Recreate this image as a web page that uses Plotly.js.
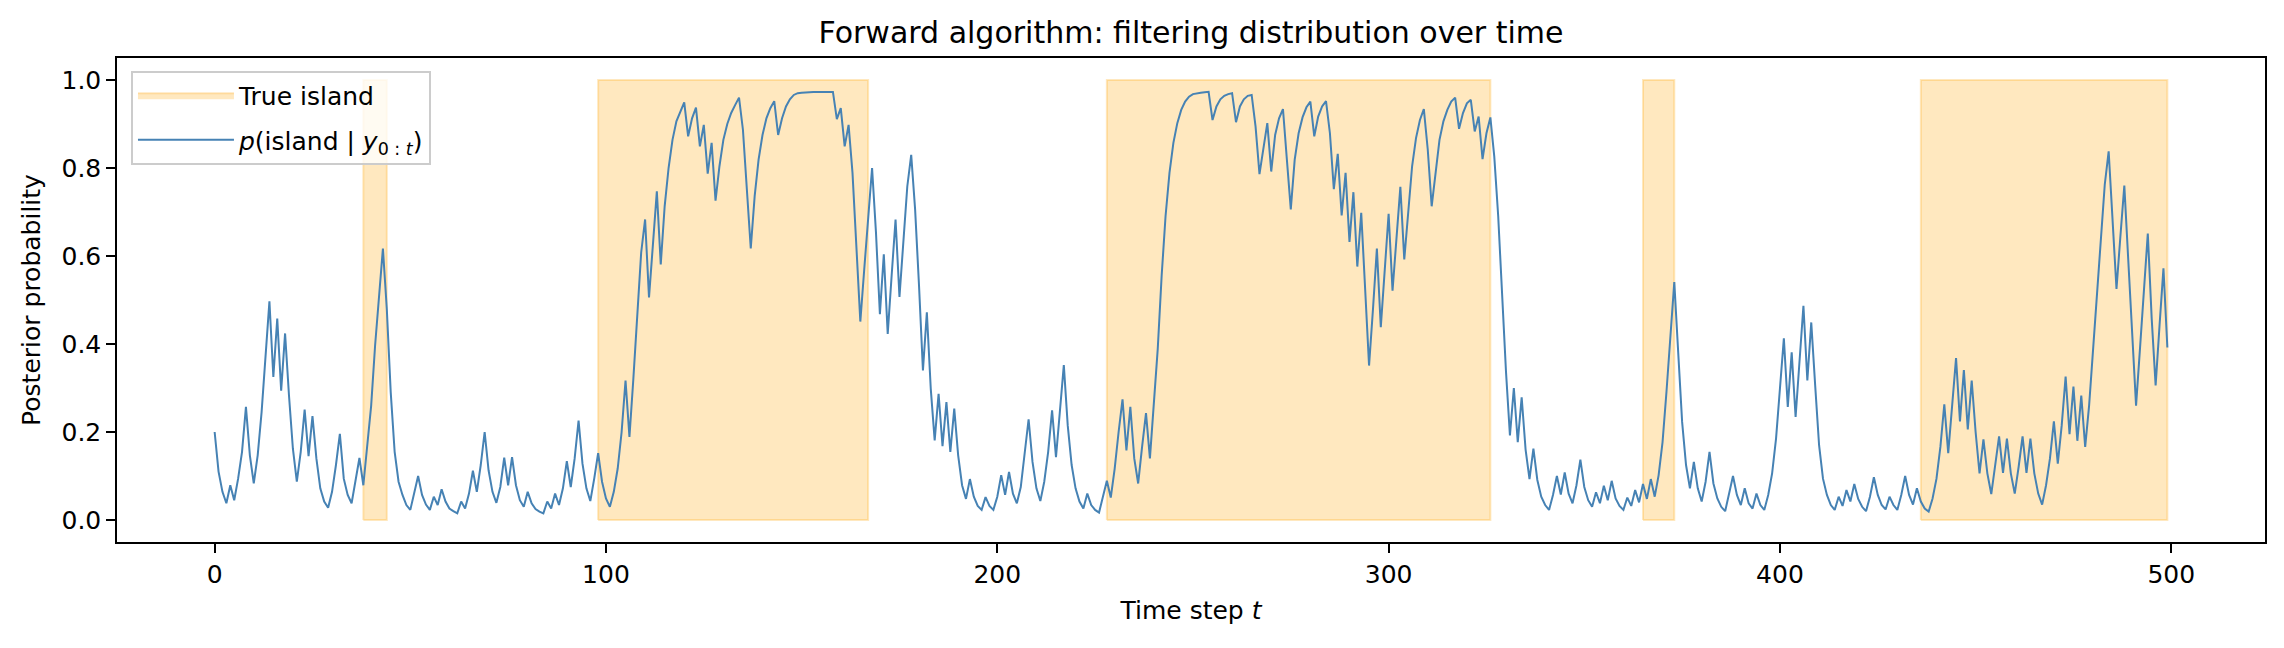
<!DOCTYPE html>
<html>
<head>
<meta charset="utf-8">
<script src="https://cdn.plot.ly/plotly-3.0.1.min.js"></script>
<style>html,body{margin:0;padding:0;background:#fff;}#chart{width:2284px;height:648px;}</style>
</head>
<body>
<div id="chart"></div>
<script>
// True island segments (start, end time steps)
const islandStart = [38, 98, 228, 365, 436];
const islandEnd   = [44, 167, 326, 373, 499];

// Filtering posterior p(island | y_{0:t}), t = 0..499
const posterior = [
  0.20, 0.11, 0.064, 0.038, 0.079, 0.045, 0.094, 0.155, 0.257, 0.147,
  0.083, 0.147, 0.245, 0.366, 0.497, 0.325, 0.458, 0.294, 0.424, 0.283,
  0.162, 0.087, 0.155, 0.251, 0.145, 0.236, 0.14, 0.072, 0.042, 0.028,
  0.064, 0.125, 0.196, 0.094, 0.057, 0.038, 0.087, 0.141, 0.079, 0.162,
  0.26, 0.396, 0.517, 0.617, 0.479, 0.29, 0.155, 0.087, 0.057, 0.034,
  0.023, 0.064, 0.10, 0.057, 0.035, 0.023, 0.053, 0.034, 0.07, 0.042,
  0.026, 0.02, 0.015, 0.042, 0.026, 0.06, 0.112, 0.064, 0.125, 0.2,
  0.113, 0.064, 0.039, 0.075, 0.142, 0.079, 0.143, 0.079, 0.045, 0.03,
  0.064, 0.038, 0.025, 0.019, 0.015, 0.042, 0.026, 0.06, 0.034, 0.072,
  0.134, 0.075, 0.14, 0.226, 0.128, 0.072, 0.043, 0.094, 0.152, 0.087,
  0.049, 0.03, 0.064, 0.117, 0.2, 0.317, 0.189, 0.321, 0.472, 0.608,
  0.683, 0.506, 0.626, 0.747, 0.581, 0.713, 0.80, 0.864, 0.906, 0.928,
  0.949, 0.872, 0.913, 0.937, 0.849, 0.898, 0.787, 0.857, 0.726, 0.804,
  0.864, 0.90, 0.925, 0.943, 0.96, 0.887, 0.743, 0.617, 0.736, 0.819,
  0.875, 0.913, 0.936, 0.952, 0.875, 0.913, 0.94, 0.956, 0.966, 0.97,
  0.971, 0.972, 0.972, 0.973, 0.973, 0.973, 0.973, 0.973, 0.973, 0.911,
  0.936, 0.849, 0.898, 0.789, 0.623, 0.451, 0.57, 0.69, 0.80, 0.653,
  0.468, 0.604, 0.423, 0.555, 0.683, 0.507, 0.645, 0.758, 0.83, 0.706,
  0.532, 0.34, 0.472, 0.298, 0.181, 0.287, 0.168, 0.268, 0.155, 0.253,
  0.147, 0.079, 0.048, 0.093, 0.053, 0.032, 0.023, 0.052, 0.032, 0.023,
  0.053, 0.102, 0.057, 0.109, 0.06, 0.038, 0.075, 0.155, 0.229, 0.132,
  0.072, 0.043, 0.087, 0.155, 0.249, 0.143, 0.253, 0.352, 0.215, 0.125,
  0.072, 0.042, 0.026, 0.06, 0.034, 0.023, 0.017, 0.053, 0.089, 0.051,
  0.117, 0.2, 0.274, 0.158, 0.257, 0.14, 0.083, 0.166, 0.243, 0.14,
  0.26, 0.389, 0.555, 0.691, 0.789, 0.857, 0.902, 0.932, 0.951, 0.962,
  0.968, 0.97, 0.971, 0.972, 0.973, 0.909, 0.94, 0.956, 0.964, 0.968,
  0.97, 0.904, 0.94, 0.956, 0.964, 0.966, 0.894, 0.786, 0.849, 0.902,
  0.792, 0.875, 0.913, 0.934, 0.819, 0.706, 0.819, 0.879, 0.915, 0.938,
  0.951, 0.872, 0.917, 0.94, 0.952, 0.879, 0.752, 0.832, 0.692, 0.789,
  0.632, 0.745, 0.576, 0.698, 0.525, 0.351, 0.479, 0.617, 0.438, 0.562,
  0.696, 0.521, 0.638, 0.757, 0.592, 0.706, 0.804, 0.868, 0.909, 0.934,
  0.842, 0.713, 0.796, 0.864, 0.906, 0.932, 0.951, 0.96, 0.889, 0.925,
  0.947, 0.955, 0.883, 0.917, 0.82, 0.879, 0.915, 0.826, 0.691, 0.502,
  0.336, 0.192, 0.30, 0.177, 0.279, 0.16, 0.093, 0.162, 0.091, 0.053,
  0.034, 0.023, 0.057, 0.10, 0.058, 0.108, 0.06, 0.038, 0.079, 0.137,
  0.075, 0.045, 0.03, 0.063, 0.038, 0.078, 0.045, 0.089, 0.049, 0.032,
  0.023, 0.051, 0.032, 0.068, 0.04, 0.082, 0.048, 0.093, 0.053, 0.102,
  0.177, 0.291, 0.419, 0.541, 0.381, 0.223, 0.125, 0.072, 0.132, 0.072,
  0.042, 0.087, 0.155, 0.083, 0.049, 0.03, 0.02, 0.057, 0.10, 0.057,
  0.034, 0.072, 0.038, 0.026, 0.06, 0.034, 0.023, 0.057, 0.106, 0.185,
  0.298, 0.413, 0.257, 0.381, 0.234, 0.351, 0.487, 0.317, 0.449, 0.306,
  0.17, 0.094, 0.057, 0.034, 0.023, 0.053, 0.032, 0.068, 0.042, 0.082,
  0.048, 0.03, 0.02, 0.053, 0.097, 0.057, 0.034, 0.024, 0.053, 0.034,
  0.023, 0.057, 0.10, 0.057, 0.035, 0.072, 0.042, 0.026, 0.019, 0.049,
  0.094, 0.166, 0.263, 0.152, 0.268, 0.368, 0.224, 0.341, 0.206, 0.317,
  0.20, 0.106, 0.183, 0.106, 0.059, 0.121, 0.19, 0.107, 0.185, 0.106,
  0.06, 0.121, 0.19, 0.107, 0.185, 0.106, 0.06, 0.035, 0.079, 0.14,
  0.224, 0.128, 0.215, 0.326, 0.195, 0.303, 0.18, 0.283, 0.166, 0.26,
  0.389, 0.525, 0.653, 0.762, 0.838, 0.691, 0.525, 0.645, 0.76, 0.592,
  0.419, 0.26, 0.389, 0.517, 0.651, 0.457, 0.306, 0.442, 0.572, 0.392
];

const xTickVals = [0, 100, 200, 300, 400, 500];
const yTickVals = [0.0, 0.2, 0.4, 0.6, 0.8, 1.0];

const timeSteps = posterior.map((_, i) => i);

const FONT = 'DejaVu Sans, Liberation Sans, sans-serif';
const FS = 25;
const bandFill = 'rgba(255,165,0,0.25)';

const traces = [];
islandStart.forEach((s, k) => {
  const e = islandEnd[k];
  traces.push({
    type: 'scatter', mode: 'lines',
    x: [s, e, e, s, s], y: [0, 0, 1, 1, 0],
    fill: 'toself', fillcolor: bandFill,
    line: {color: bandFill, width: 2},
    name: 'True island', legendgroup: 'island',
    showlegend: k === 0, hoverinfo: 'skip'
  });
});
traces.push({
  type: 'scatter', mode: 'lines',
  x: timeSteps, y: posterior,
  line: {color: '#4682b4', width: 2},
  name: '<i>p</i>(island | <i>y</i><sub>0 : <i>t</i></sub>)',
  legendgroup: 'post'
});

const axisCommon = {
  showline: true, mirror: true, linecolor: '#000', linewidth: 2,
  ticks: 'outside', ticklen: 8.75, tickwidth: 2, tickcolor: '#000',
  showgrid: false, zeroline: false,
  tickfont: {family: FONT, size: FS, color: '#000'}
};

const layout = {
  width: 2284, height: 648,
  paper_bgcolor: '#fff', plot_bgcolor: '#fff',
  margin: {l: 117, r: 19, t: 58, b: 106, pad: 0},
  font: {family: FONT, color: '#000'},
  title: {
    text: 'Forward algorithm: filtering distribution over time',
    font: {family: FONT, size: 30, color: '#000'},
    x: 0.5, xref: 'paper', y: 1 - 32/648, yref: 'container', yanchor: 'middle'
  },
  xaxis: Object.assign({}, axisCommon, {
    range: [-24.95, 523.95], tickvals: xTickVals,
    title: {text: 'Time step <i>t</i>', font: {family: FONT, size: FS, color: '#000'}, standoff: 14}
  }),
  yaxis: Object.assign({}, axisCommon, {
    range: [-0.05, 1.05], tickvals: yTickVals, tickformat: '.1f',
    title: {text: 'Posterior probability', font: {family: FONT, size: FS, color: '#000'}, standoff: 14}
  }),
  showlegend: true,
  legend: {
    x: 0.0065, y: 0.974, xanchor: 'left', yanchor: 'top',
    bgcolor: 'rgba(255,255,255,0.8)', bordercolor: '#cccccc', borderwidth: 2,
    font: {family: FONT, size: FS, color: '#000'},
    traceorder: 'grouped', tracegroupgap: 9, itemwidth: 96
  }
};

Plotly.newPlot('chart', traces, layout, {displayModeBar: false, staticPlot: true});
</script>
</body>
</html>
